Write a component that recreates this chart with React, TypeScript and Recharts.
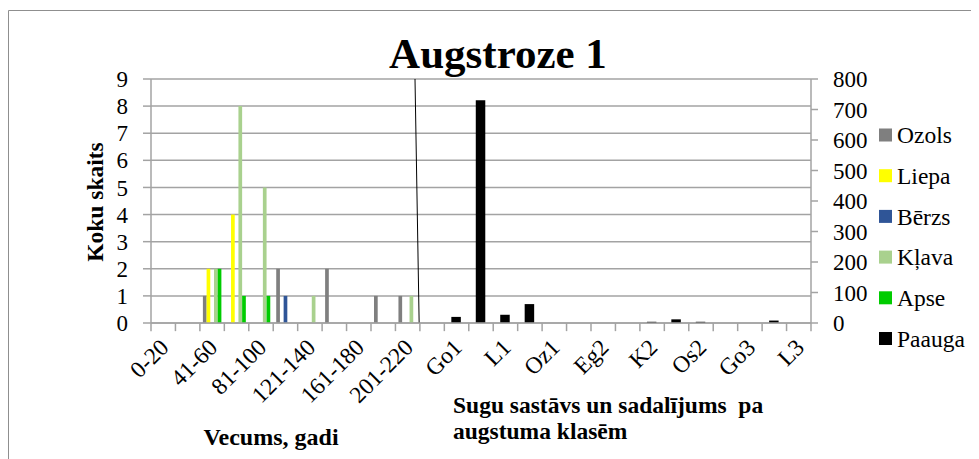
import React from 'react';
import { BarChart, Bar, XAxis, YAxis, CartesianGrid, ReferenceLine } from 'recharts';

// ---- data ----
const ageCategories = ['0-20', '21-40', '41-60', '61-80', '81-100', '101-120', '121-140', '141-160', '161-180', '181-200', '201-220'];
const heightCategories = ['Os1', 'Go1', 'K1', 'L1', 'Eg1', 'Oz1', 'Go2', 'Eg2', 'L2', 'K2', 'Oz2', 'Os2', 'K3', 'Go3', 'Os3', 'L3'];

const ozols = [0, 0, 1, 0, 0, 2, 0, 2, 0, 1, 1];
const liepa = [0, 0, 2, 4, 0, 0, 0, 0, 0, 0, 0];
const berzs = [0, 0, 0, 0, 0, 1, 0, 0, 0, 0, 0];
const klava = [0, 0, 2, 8, 5, 0, 1, 0, 0, 0, 1];
const apse = [0, 0, 2, 1, 1, 0, 0, 0, 0, 0, 0];
const paauga = [0, 20, 730, 27, 62, 0, 0, 0, 0, 4, 12, 4, 0, 0, 8, 0];

const leftTicks = [0, 1, 2, 3, 4, 5, 6, 7, 8, 9];
const rightTicks = [0, 100, 200, 300, 400, 500, 600, 700, 800];

// hand-drawn separator between the two parts (in category units)
const separatorTop = 10.8;
const separatorBottom = 10.97;

const title = 'Augstroze 1';
const leftAxisTitle = 'Koku skaits';
const ageAxisTitle = 'Vecums, gadi';
const heightAxisTitle = ['Sugu sastāvs un sadalījums  pa', 'augstuma klasēm'];

const speciesSeries = [
  { key: 'Ozols', values: ozols, color: '#7f7f7f' },
  { key: 'Liepa', values: liepa, color: '#ffff00' },
  { key: 'Bērzs', values: berzs, color: '#2f5597' },
  { key: 'Kļava', values: klava, color: '#a9d18e' },
  { key: 'Apse', values: apse, color: '#00cc00' },
];
const paaugaSeries = { key: 'Paauga', values: paauga, color: '#000000' };
const legendItems = [...speciesSeries, paaugaSeries];

const data: any[] = [
  ...ageCategories.map((cat, i) => {
    const row: any = { cat };
    speciesSeries.forEach((s) => (row[s.key] = s.values[i]));
    return row;
  }),
  ...heightCategories.map((cat, i) => ({ cat, Paauga: paauga[i] })),
].map((row, i) => ({ ...row, pos: i + 0.5 }));
const allCategories = data.map((d) => d.cat);
const lastCategory = allCategories[allCategories.length - 1];

// ---- styles ----
const FONT = "'Times New Roman', 'Liberation Serif', serif";
const GRID = '#a3a3a3';
const W = 971;
const H = 451;

const XTick = (props: any) => {
  const { x, y, payload } = props;
  return (
    <g transform={`translate(${x + 1},${y + 20})`}>
      <text transform="rotate(-45)" textAnchor="end" dy="0.35em" fontFamily={FONT} fontSize={23.5} fill="#000">
        {payload.value}
      </text>
    </g>
  );
};

export default function App() {
  return (
    <div style={{ position: 'relative', width: W, height: H }}>
      <BarChart
        width={W}
        height={H}
        data={data}
        margin={{ top: 71, right: 108, bottom: 76, left: 0 }}
        barGap={0}
      >
        <CartesianGrid vertical={false} stroke={GRID} strokeWidth={1.5} xAxisId="main" yAxisId="left" />
        <XAxis
          xAxisId="main"
          dataKey="cat"
          interval={1}
          tickLine={false}
          tickSize={0}
          tickMargin={0}
          height={60}
          axisLine={{ stroke: GRID, strokeWidth: 1.5 }}
          tick={<XTick />}
        />
        <XAxis xAxisId="p" dataKey="cat" hide />
        <XAxis
          xAxisId="sep"
          dataKey="pos"
          type="number"
          domain={[0, allCategories.length]}
          allowDataOverflow
          hide
        />
        <YAxis
          yAxisId="left"
          domain={[0, 9]}
          ticks={leftTicks}
          interval={0}
          width={143}
          tickSize={8}
          tickMargin={15}
          axisLine={{ stroke: GRID, strokeWidth: 1.5 }}
          tickLine={{ stroke: GRID, strokeWidth: 1.5 }}
          tick={{ fontFamily: FONT, fontSize: 23, fill: '#000' }}
        />
        <YAxis
          yAxisId="right"
          orientation="right"
          domain={[0, 800]}
          ticks={rightTicks}
          interval={0}
          width={60}
          tickSize={7}
          tickMargin={15}
          axisLine={{ stroke: GRID, strokeWidth: 1.5 }}
          tickLine={{ stroke: GRID, strokeWidth: 1.5 }}
          tick={{ fontFamily: FONT, fontSize: 23, fill: '#000' }}
        />
        {speciesSeries.map((s) => (
          <Bar
            key={s.key}
            dataKey={s.key}
            xAxisId="main"
            yAxisId="left"
            fill={s.color}
            barSize={3.7}
            isAnimationActive={false}
          />
        ))}
        <Bar
          dataKey={paaugaSeries.key}
          xAxisId="p"
          yAxisId="right"
          fill={paaugaSeries.color}
          barSize={9.5}
          isAnimationActive={false}
        />
        {allCategories.map((c) => (
          <ReferenceLine
            key={'tick-' + c}
            xAxisId="main"
            yAxisId="left"
            segment={[{ x: c, y: 0 }, { x: c, y: -0.3 }]}
            position="start"
            ifOverflow="visible"
            stroke={GRID}
            strokeWidth={1.5}
          />
        ))}
        <ReferenceLine
          xAxisId="main"
          yAxisId="left"
          segment={[{ x: lastCategory, y: 0 }, { x: lastCategory, y: -0.3 }]}
          position="end"
          ifOverflow="visible"
          stroke={GRID}
          strokeWidth={1.5}
        />
        <ReferenceLine
          xAxisId="sep"
          yAxisId="left"
          segment={[{ x: separatorTop, y: 9 }, { x: separatorBottom, y: 0 }]}
          ifOverflow="visible"
          stroke="#000"
          strokeWidth={1}
        />
      </BarChart>
      <svg
        width={W}
        height={H}
        style={{ position: 'absolute', left: 0, top: 0, pointerEvents: 'none' }}
      >
        <line x1={0.5} y1={2.5} x2={W} y2={2.5} stroke="#8f8f8f" strokeWidth={1} />
        <line x1={0.5} y1={2.5} x2={0.5} y2={H} stroke="#8f8f8f" strokeWidth={1} />
        <text x={490} y={60} textAnchor="middle" fontFamily={FONT} fontSize={43} fontWeight="bold" fill="#000">
          {title}
        </text>
        <text
          x={95}
          y={194}
          transform="rotate(-90 95 194)"
          textAnchor="middle"
          fontFamily={FONT}
          fontSize={23.5}
          fontWeight="bold"
          fill="#000"
        >
          {leftAxisTitle}
        </text>
        <text x={263} y={437} textAnchor="middle" fontFamily={FONT} fontSize={24} fontWeight="bold" fill="#000">
          {ageAxisTitle}
        </text>
        {heightAxisTitle.map((line, i) => (
          <text
            key={line}
            x={445}
            y={405 + i * 26}
            fontFamily={FONT}
            fontSize={23.5}
            fontWeight="bold"
            fill="#000"
            style={{ whiteSpace: 'pre' }}
          >
            {line}
          </text>
        ))}
        {legendItems.map((s, i) => {
          const cy = 127 + i * 40.7;
          return (
            <g key={s.key}>
              <rect x={871} y={cy - 6.5} width={13} height={13} fill={s.color} />
              <text x={889} y={cy} dy="0.35em" fontFamily={FONT} fontSize={23.5} fill="#000">
                {s.key}
              </text>
            </g>
          );
        })}
      </svg>
    </div>
  );
}
